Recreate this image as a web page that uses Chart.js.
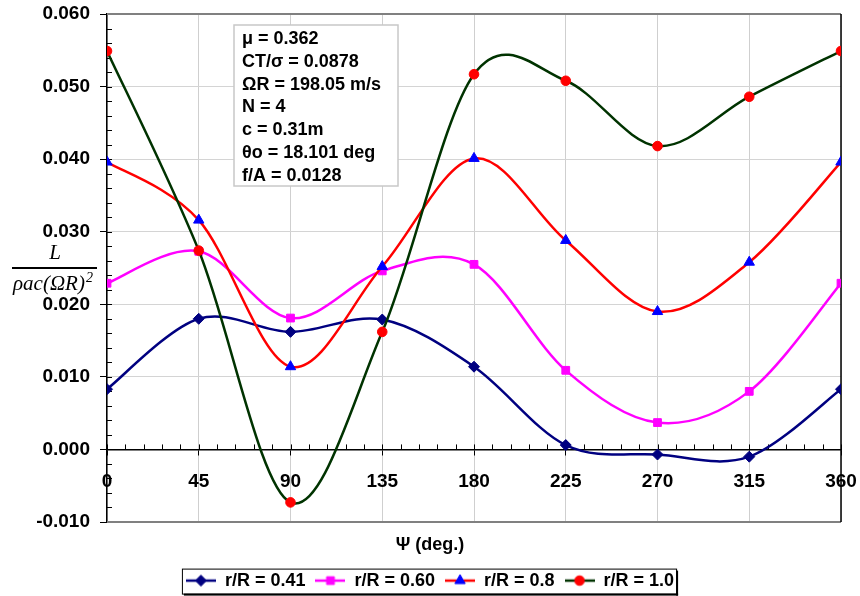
<!DOCTYPE html>
<html>
<head>
<meta charset="utf-8">
<script src="https://cdn.jsdelivr.net/npm/chart.js@4.4.1/dist/chart.umd.min.js"></script>
<style>
  html, body { margin: 0; padding: 0; background: #fff; }
  canvas { display: block; }
</style>
</head>
<body>
<canvas id="liftChart" width="860" height="596"></canvas>
<script>
// azimuth (deg)
const psi = [0, 45, 90, 135, 180, 225, 270, 315, 360];

// sectional lift L / (rho a c (Omega R)^2)
const liftR041 = [0.0083, 0.0180, 0.0162, 0.0179, 0.0114, 0.0006, -0.0007, -0.0010, 0.0083];
const liftR060 = [0.0229, 0.0273, 0.0181, 0.0246, 0.0255, 0.0109, 0.0037, 0.0080, 0.0229];
const liftR080 = [0.0396, 0.0316, 0.0114, 0.0252, 0.0401, 0.0288, 0.0190, 0.0258, 0.0396];
const liftR100 = [0.0549, 0.0274, -0.0073, 0.0162, 0.0517, 0.0508, 0.0418, 0.0486, 0.0549];

const seriesNames = ['r/R = 0.41', 'r/R = 0.60', 'r/R = 0.8', 'r/R = 1.0'];

const infoLines = ['μ = 0.362', 'CT/σ = 0.0878', 'ΩR = 198.05 m/s', 'N = 4',
                   'c = 0.31m', 'θo = 18.101 deg', 'f/A = 0.0128'];

const yMin = -0.010, yMax = 0.060, yStep = 0.010, yMinor = 0.002;
const xMin = 0, xMax = 360, xStep = 45, xMinor = 9;

// styling
const lineColors   = ['#000080', '#FF00FF', '#FF0000', '#003300'];
const markerColors = ['#000080', '#FF00FF', '#0000FF', '#FF0000'];
const markerStyles = ['rectRot', 'rect', 'triangle', 'circle'];
const markerSizes  = [5.5, 5.5, 6, 4.8];

const FONT = '"Liberation Sans", Arial, sans-serif';
Chart.defaults.font.family = FONT;
Chart.defaults.color = '#000';

function drawMarker(g, style, r, x, y) {
    g.beginPath();
    if (style === 'circle') {
        g.arc(x, y, r, 0, Math.PI * 2);
    } else if (style === 'rect') {
        const s = r * Math.SQRT1_2;
        g.rect(x - s, y - s, 2 * s, 2 * s);
    } else if (style === 'rectRot') {
        g.moveTo(x, y - r); g.lineTo(x + r, y); g.lineTo(x, y + r); g.lineTo(x - r, y);
        g.closePath();
    } else {
        g.moveTo(x, y - r);
        g.lineTo(x + r * 0.866, y + r * 0.5);
        g.lineTo(x - r * 0.866, y + r * 0.5);
        g.closePath();
    }
    g.fill();
    g.stroke();
}

// legend icons: line with marker in the middle
function makeIcon(i) {
    const c = document.createElement('canvas');
    c.width = 30; c.height = 14;
    const g = c.getContext('2d');
    g.strokeStyle = lineColors[i];
    g.lineWidth = 2.5;
    g.beginPath(); g.moveTo(0, 7); g.lineTo(30, 7); g.stroke();
    g.fillStyle = markerColors[i];
    g.strokeStyle = markerColors[i];
    g.lineWidth = 1;
    drawMarker(g, markerStyles[i], markerSizes[i], 15, 7);
    return c;
}
const icons = seriesNames.map((n, i) => makeIcon(i));

// Excel-like smoothing (Catmull-Rom control points)
const excelSmooth = {
    id: 'excelSmooth',
    afterDatasetsUpdate(chart) {
        chart.getSortedVisibleDatasetMetas().forEach(meta => {
            const pts = meta.data;
            const n = pts.length;
            for (let i = 0; i < n; i++) {
                const p = pts[i];
                const a = pts[Math.max(i - 1, 0)];
                const b = pts[Math.min(i + 1, n - 1)];
                const dx = (b.x - a.x) / 6, dy = (b.y - a.y) / 6;
                p.cp1x = p.x - dx; p.cp1y = p.y - dy;
                p.cp2x = p.x + dx; p.cp2y = p.y + dy;
            }
            meta.dataset._pointsUpdated = true;
        });
    }
};

const decorations = {
    id: 'decorations',
    beforeDatasetsDraw(chart) {
        const {ctx, chartArea: ca, scales: {x, y}} = chart;
        const y0 = y.getPixelForValue(0);
        ctx.save();
        ctx.strokeStyle = '#000';
        ctx.lineWidth = 1;
        ctx.beginPath();
        for (let v = xMin; v <= xMax; v += xMinor) {
            const px = Math.round(x.getPixelForValue(v)) + 0.5;
            ctx.moveTo(px, y0 - 5); ctx.lineTo(px, y0);
        }
        for (let k = 0; k <= Math.round((yMax - yMin) / yMinor); k++) {
            const py = Math.round(y.getPixelForValue(yMin + k * yMinor)) + 0.5;
            ctx.moveTo(ca.left, py); ctx.lineTo(ca.left + 5, py);
        }
        ctx.stroke();
        // plot frame
        ctx.strokeStyle = '#808080';
        ctx.lineWidth = 2;
        ctx.beginPath();
        ctx.moveTo(ca.left, ca.top); ctx.lineTo(ca.right, ca.top);
        ctx.moveTo(ca.left, ca.bottom); ctx.lineTo(ca.right, ca.bottom);
        ctx.stroke();
        ctx.strokeStyle = '#000';
        ctx.lineWidth = 1.5;
        ctx.beginPath();
        ctx.moveTo(ca.right, ca.top); ctx.lineTo(ca.right, ca.bottom);
        ctx.stroke();
        ctx.restore();
    },
    afterDraw(chart) {
        const ctx = chart.ctx;
        ctx.save();
        // parameter box
        ctx.fillStyle = '#fff';
        ctx.fillRect(234, 25, 164, 161);
        ctx.strokeStyle = '#c8c8c8';
        ctx.lineWidth = 1.5;
        ctx.strokeRect(234, 25, 164, 161);
        ctx.fillStyle = '#000';
        ctx.font = 'bold 18px ' + FONT;
        ctx.textBaseline = 'middle';
        ctx.textAlign = 'left';
        infoLines.forEach((t, i) => ctx.fillText(t, 242, 39 + i * 22.8));

        // y axis title as a fraction
        ctx.font = 'italic 21px "Liberation Serif", "Times New Roman", serif';
        ctx.textAlign = 'center';
        ctx.textBaseline = 'alphabetic';
        ctx.fillText('L', 55, 259);
        ctx.strokeStyle = '#000';
        ctx.lineWidth = 2;
        ctx.beginPath(); ctx.moveTo(12, 268); ctx.lineTo(97, 268); ctx.stroke();
        ctx.textAlign = 'left';
        ctx.fillText('ρac(ΩR)', 13, 290);
        const w = ctx.measureText('ρac(ΩR)').width;
        ctx.font = 'italic 14px "Liberation Serif", "Times New Roman", serif';
        ctx.fillText('2', 13 + w + 1, 282);

        // legend frame with shadow
        const hb = chart.legend.legendHitBoxes;
        if (hb && hb.length) {
            const last = hb[hb.length - 1];
            const l = hb[0].left - 4, r = last.left + last.width + 2;
            const t = hb[0].top - 3, b = hb[0].top + 22;
            ctx.fillStyle = '#000';
            ctx.fillRect(l + 2, b, r - l, 2);
            ctx.fillRect(r, t + 2, 2, b - t);
            ctx.strokeStyle = '#000';
            ctx.lineWidth = 1;
            ctx.strokeRect(l + 0.5, t + 0.5, r - l, b - t);
        }
        ctx.restore();
    }
};

// keep the plot area where the reference has it
function noScalePadding(scale) {
    scale.paddingLeft = 0;
    scale.paddingRight = 0;
    scale.paddingTop = 0;
    scale.paddingBottom = 0;
}

const seriesData = [liftR041, liftR060, liftR080, liftR100];

const datasets = seriesData.map((vals, i) => ({
    label: seriesNames[i],
    data: psi.map((p, k) => ({x: p, y: vals[k]})),
    borderColor: lineColors[i],
    backgroundColor: markerColors[i],
    borderWidth: 2.5,
    tension: 0.4,
    fill: false,
    pointStyle: markerStyles[i],
    pointRadius: markerSizes[i],
    pointBackgroundColor: markerColors[i],
    pointBorderColor: markerColors[i],
    pointBorderWidth: 1,
    order: 4 - i
}));

new Chart(document.getElementById('liftChart'), {
    type: 'line',
    data: { datasets: datasets },
    plugins: [excelSmooth, decorations],
    options: {
        responsive: false,
        animation: false,
        layout: { padding: { top: 14, right: 0, left: 0, bottom: 0 } },
        scales: {
            x: {
                type: 'linear',
                position: { y: 0 },
                min: xMin, max: xMax,
                afterFit: noScalePadding,
                ticks: {
                    stepSize: xStep, autoSkip: false, maxRotation: 0,
                    padding: 16,
                    font: { size: 19, weight: 'bold' }, color: '#000'
                },
                grid: { color: '#cfcfcf', lineWidth: 1, tickLength: 5, tickColor: '#000' },
                border: { color: '#000', width: 1.5 }
            },
            y: {
                position: 'left',
                min: yMin, max: yMax,
                afterFit(scale) { scale.width = 107; noScalePadding(scale); },
                ticks: {
                    stepSize: yStep, padding: 10,
                    font: { size: 19, weight: 'bold' }, color: '#000',
                    callback: v => (Math.abs(v) < 1e-9 ? 0 : v).toFixed(3)
                },
                grid: { color: '#d4d4d4', lineWidth: 1, tickLength: 7, tickColor: '#000' },
                border: { color: '#000', width: 1.5 }
            },
            yRight: {
                position: 'right',
                afterFit(scale) { scale.width = 19; noScalePadding(scale); },
                ticks: { display: false },
                grid: { display: false, drawTicks: false },
                border: { display: false }
            }
        },
        plugins: {
            tooltip: { enabled: false },
            legend: {
                position: 'bottom',
                maxHeight: 74,
                title: {
                    display: true,
                    text: 'Ψ (deg.)',
                    color: '#000',
                    font: { size: 18, weight: 'bold' },
                    padding: { top: 14, bottom: 4 }
                },
                labels: {
                    usePointStyle: true,
                    pointStyleWidth: 30,
                    padding: 10,
                    color: '#000',
                    font: { size: 18, weight: 'bold' },
                    sort: (a, b) => a.datasetIndex - b.datasetIndex,
                    generateLabels(chart) {
                        const items = Chart.defaults.plugins.legend.labels.generateLabels(chart);
                        items.forEach(it => { it.pointStyle = icons[it.datasetIndex]; });
                        return items;
                    }
                }
            }
        }
    }
});
</script>
</body>
</html>
